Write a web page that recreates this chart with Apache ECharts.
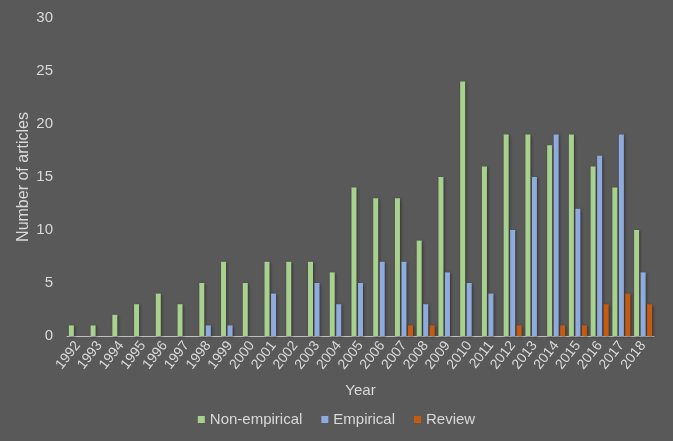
<!DOCTYPE html>
<html><head><meta charset="utf-8">
<script src="https://cdn.jsdelivr.net/npm/echarts@6/dist/echarts.min.js"></script>
<style>html,body{margin:0;padding:0;background:#595959;}#c{width:673px;height:441px;}</style>
</head><body><div id="c"></div>
<script>
const years = ['1992','1993','1994','1995','1996','1997','1998','1999','2000','2001','2002','2003','2004','2005','2006','2007','2008','2009','2010','2011','2012','2013','2014','2015','2016','2017','2018'];
const nonEmpirical = [1,1,2,3,4,3,5,7,5,7,7,7,6,14,13,13,9,15,24,16,19,19,18,19,16,14,10];
const empirical =    [0,0,0,0,0,0,1,1,0,4,0,5,3,5,7,7,3,6,5,4,10,15,19,12,17,19,6];
const review =       [0,0,0,0,0,0,0,0,0,0,0,0,0,0,0,1,1,0,0,0,1,0,1,1,3,4,3];
const yTicks = [0,5,10,15,20,25,30];

const txt = '#D9D9D9';
const font = 'Liberation Sans';
const shadow = {shadowColor:'rgba(0,0,0,0.45)', shadowBlur:3, shadowOffsetX:1, shadowOffsetY:1};
const chart = echarts.init(document.getElementById('c'), null, {renderer:'canvas'});
chart.setOption({
  backgroundColor:'#595959',
  textStyle:{fontFamily:font},
  grid:{left:67, right:19, top:18, bottom:105, containLabel:false},
  legend:{
    bottom:9, left:'center', itemWidth:7, itemHeight:7, itemGap:19,
    icon:'rect',
    textStyle:{color:txt, fontSize:15, fontFamily:font},
    data:['Non-empirical','Empirical','Review']
  },
  xAxis:{
    type:'category', data:years, name:'Year', nameLocation:'middle', nameGap:47,
    nameMoveOverlap:false,
    nameTextStyle:{color:txt, fontSize:15, fontFamily:font},
    axisLine:{lineStyle:{color:'#BFBFBF', width:1}},
    axisTick:{show:false},
    axisLabel:{color:txt, fontSize:14, fontFamily:font, rotate:52, interval:0, margin:7}
  },
  yAxis:{
    type:'value', min:yTicks[0], max:yTicks[yTicks.length-1], interval:5,
    name:'Number of articles', nameLocation:'middle', nameGap:35,
    nameMoveOverlap:false,
    nameTextStyle:{color:txt, fontSize:16, fontFamily:font},
    axisLine:{show:false}, axisTick:{show:false}, splitLine:{show:false},
    axisLabel:{color:txt, fontSize:15, fontFamily:font, margin:14}
  },
  series:[
    {name:'Non-empirical', type:'bar', data:nonEmpirical, barGap:'30%', barCategoryGap:'17%', itemStyle:Object.assign({color:'#A9D18E'},shadow)},
    {name:'Empirical', type:'bar', data:empirical, itemStyle:Object.assign({color:'#8FAADC'},shadow)},
    {name:'Review', type:'bar', data:review, itemStyle:Object.assign({color:'#C55A11'},shadow)}
  ],
  animation:false
});
</script></body></html>
